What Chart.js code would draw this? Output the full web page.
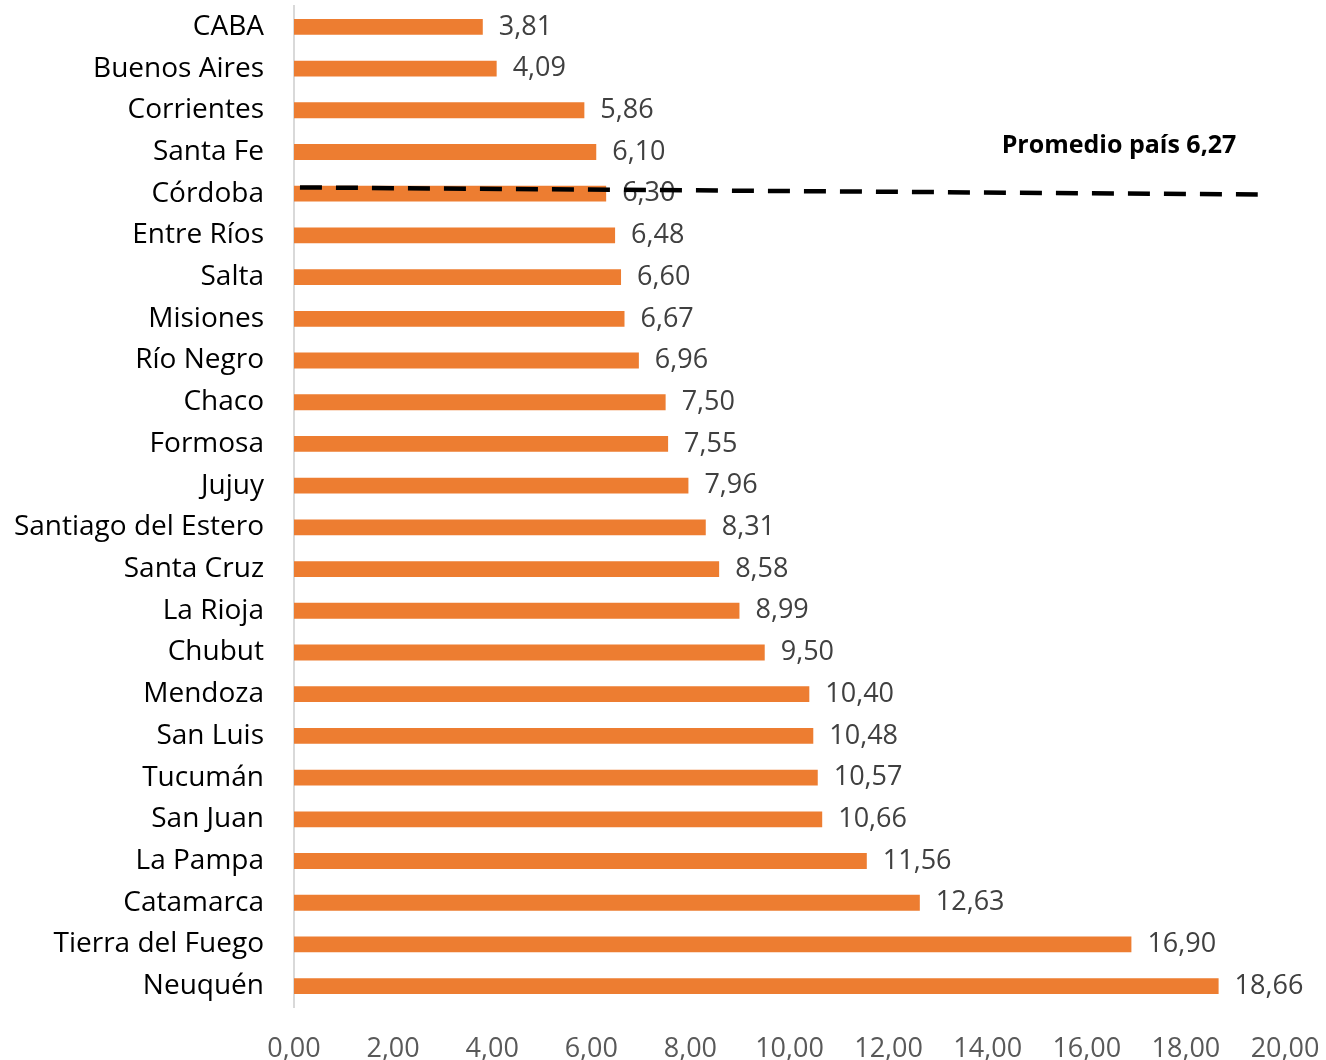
<!DOCTYPE html>
<html>
<head>
<meta charset="utf-8">
<script src="https://cdn.jsdelivr.net/npm/chart.js@4.4.1/dist/chart.umd.min.js"></script>
<style>
  html, body { margin: 0; padding: 0; background: #fff; }
  #wrap { width: 1326px; height: 1060px; position: relative; }
</style>
</head>
<body>
<div id="wrap"><canvas id="provChart"></canvas></div>
<script>
// provincias y valores
const provincias = ['CABA', 'Buenos Aires', 'Corrientes', 'Santa Fe', 'Córdoba', 'Entre Ríos', 'Salta',
    'Misiones', 'Río Negro', 'Chaco', 'Formosa', 'Jujuy', 'Santiago del Estero', 'Santa Cruz',
    'La Rioja', 'Chubut', 'Mendoza', 'San Luis', 'Tucumán', 'San Juan', 'La Pampa', 'Catamarca',
    'Tierra del Fuego', 'Neuquén'];
const valores = [3.81, 4.09, 5.86, 6.10, 6.30, 6.48, 6.60, 6.67, 6.96, 7.50, 7.55, 7.96, 8.31, 8.58,
    8.99, 9.50, 10.40, 10.48, 10.57, 10.66, 11.56, 12.63, 16.90, 18.66];
const promedio = 6.27;
const promedioLabel = 'Promedio país 6,27';
// dashed line endpoints: [x value, category position]
const lineaPromedio = [[0.12, 3.85], [19.45, 4.02]];

const fmt = v => v.toFixed(2).replace('.', ',');
const FONT = '"Open Sans", Lato, sans-serif';

// value labels at the end of each bar + dashed average line
const extras = {
    id: 'extras',
    afterDatasetsDraw(chart) {
        const c = chart.ctx;
        const xs = chart.scales.x, ys = chart.scales.y;
        c.save();
        c.font = '27px ' + FONT;
        c.fillStyle = '#404040';
        c.textBaseline = 'middle';
        c.textAlign = 'left';
        chart.getDatasetMeta(0).data.forEach((bar, i) => {
            c.fillText(fmt(valores[i]), bar.x + 16, bar.y);
        });

        // promedio
        c.strokeStyle = '#000';
        c.lineWidth = 4.5;
        c.setLineDash([22, 14]);
        c.beginPath();
        c.moveTo(xs.getPixelForValue(lineaPromedio[0][0]), ys.getPixelForValue(lineaPromedio[0][1]));
        c.lineTo(xs.getPixelForValue(lineaPromedio[1][0]), ys.getPixelForValue(lineaPromedio[1][1]));
        c.stroke();
        c.setLineDash([]);

        c.font = 'bold 25px ' + FONT;
        c.fillStyle = '#000';
        c.textAlign = 'center';
        c.fillText(promedioLabel, xs.getPixelForValue(16.65), ys.getPixelForValue(2.85));
        c.restore();
    }
};

const ctx = document.getElementById('provChart').getContext('2d');
new Chart(ctx, {
    type: 'bar',
    data: {
        labels: provincias,
        datasets: [{
            data: valores,
            backgroundColor: '#ED7D31',
            borderWidth: 0,
            barPercentage: 0.38,
            categoryPercentage: 1
        }]
    },
    options: {
        indexAxis: 'y',
        responsive: true,
        maintainAspectRatio: false,
        animation: false,
        layout: { padding: { top: 6, right: 41, left: 0, bottom: 0 } },
        plugins: {
            legend: { display: false },
            tooltip: { enabled: false }
        },
        scales: {
            x: {
                min: 0,
                max: 20,
                ticks: {
                    stepSize: 2,
                    callback: v => fmt(v),
                    color: '#595959',
                    font: { family: FONT, size: 27 },
                    padding: 18,
                    maxRotation: 0
                },
                grid: { display: false },
                border: { display: false },
                afterFit: s => { s.height = 53; s.paddingLeft = 0; s.paddingRight = 0; }
            },
            y: {
                ticks: {
                    color: '#000',
                    font: { family: FONT, size: 28 },
                    padding: 30
                },
                grid: { display: false, drawTicks: false },
                border: { color: '#d9d9d9', width: 2 },
                afterFit: s => { s.width = 294; s.paddingTop = 0; s.paddingBottom = 0; }
            }
        }
    },
    plugins: [extras]
});
</script>
</body>
</html>
